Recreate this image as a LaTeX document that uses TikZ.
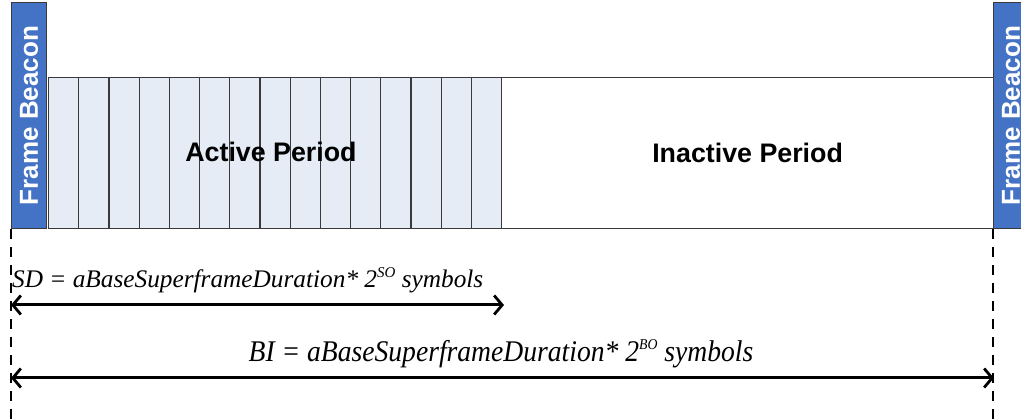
\documentclass[tikz,border=0pt]{standalone}
\usepackage{fontspec}
\setmainfont{Liberation Serif}
\newfontfamily\arialf{Liberation Sans}
\usetikzlibrary{arrows.meta}
\definecolor{beaconblue}{HTML}{4472C4}
\definecolor{slotfill}{HTML}{E5ECF6}
\definecolor{edgegray}{HTML}{3A3A3A}
\newcommand{\supx}[1]{\raisebox{0.42em}{\fontsize{15}{15}\selectfont #1}}
\begin{document}
\begin{tikzpicture}[x=1pt,y=-1pt,
  beacon/.style={draw=edgegray,line width=1.2pt,fill=beaconblue,minimum width=35pt,minimum height=226pt,inner sep=0pt,anchor=north west},
  beacontext/.style={text=white,font=\arialf\bfseries\fontsize{26}{26}\selectfont,rotate=90},
  slotbox/.style={draw=edgegray,line width=1.2pt,fill=slotfill,minimum width=30.2pt,minimum height=151pt,inner sep=0pt,anchor=north west},
  inactbox/.style={draw=edgegray,line width=1.2pt,fill=white,minimum width=492pt,minimum height=151pt,inner sep=0pt,anchor=north west},
  label/.style={font=\arialf\bfseries\fontsize{26.8}{27}\selectfont},
  guide/.style={line width=1.3pt,dash pattern=on 10pt off 8pt},
  span/.style={line width=3pt,{Straight Barb[length=8pt,width=19pt,line width=2.8pt]}-{Straight Barb[length=8pt,width=19pt,line width=2.8pt]}},
  formula/.style={font=\itshape\fontsize{25.3}{26}\selectfont,inner sep=0pt}]
\useasboundingbox (0,0) rectangle (1021,419);
% slots
\foreach \i in {0,...,14} {
  \node[slotbox] (s\i) at ({48+30.2*\i},77) {};
}
\node[inactbox] (inact) at (501,77) {};
\node[label] (act) at (271,152) {Active Period};
\node[label] at (inact.center) (inl) {Inactive Period};
% beacons
\node[beacon] (b1) at (11,2) {};
\node[beacontext] (b1t) at (b1.center) {Frame Beacon};
\node[beacon] (b2) at (993,2) {};
\node[beacontext] (b2t) at (b2.center) {Frame Beacon};
% guides
\coordinate (g1) at (11,419);
\coordinate (g2) at (993,419);
\draw[guide] (b1.south west) -- (g1);
\draw[guide] (b2.south west) -- (g2);
% arrows
\coordinate (sdl) at (11,305);
\coordinate (sdr) at (504,305);
\coordinate (bil) at (11,378);
\coordinate (bir) at (994,378);
\draw[span] (sdl) -- (sdr);
\draw[span] (bil) -- (bir);
\node[formula,anchor=base west] (sdt) at (12,288) {SD = aBaseSuperframeDuration* 2\supx{SO} symbols};
\node[formula,anchor=base,xscale=0.92,font=\itshape\fontsize{30}{30}\selectfont] (bit) at (501,362) {BI = aBaseSuperframeDuration* 2\supx{BO} symbols};
\end{tikzpicture}
\end{document}
